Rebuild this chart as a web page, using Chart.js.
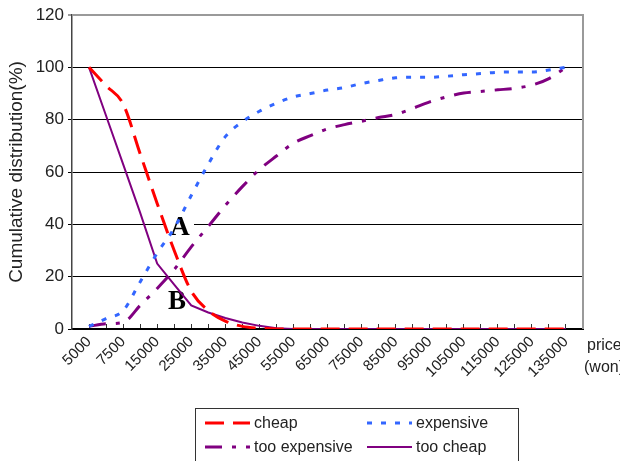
<!DOCTYPE html>
<html>
<head>
<meta charset="utf-8">
<script src="https://cdn.jsdelivr.net/npm/chart.js@4.4.0/dist/chart.umd.min.js"></script>
<style>
  html, body { margin: 0; padding: 0; background: #fff; }
  #wrap { width: 620px; height: 461px; }
</style>
</head>
<body>
<div id="wrap"><canvas id="priceChart" width="620" height="461"></canvas></div>
<script>
// price points (won) - only every other one gets a label on the axis
const categories = ['5000', '6000', '7500', '10000', '15000', '20000', '25000', '30000', '35000', '40000',
  '45000', '50000', '55000', '60000', '65000', '70000', '75000', '80000', '85000', '90000',
  '95000', '100000', '105000', '110000', '115000', '120000', '125000', '130000', '135000'];

// cumulative distribution (%) per series
const cheap = [100, 93, 86, 67, 48, 30, 14.5, 7, 3, 1, 0.3, 0, 0, 0, 0, 0, 0, 0, 0, 0, 0, 0, 0, 0, 0, 0, 0, 0, 0];
const expensive = [1, 4, 7, 18, 29, 38.5, 51, 63, 73.5, 79.2, 83.2, 86.3, 88.7, 90, 91.3, 92.3, 93.8, 95, 96,
  96.2, 96.2, 96.6, 97.2, 97.6, 98.1, 98.2, 98.2, 99, 100];
const tooExpensive = [1, 2, 2.5, 9, 15.5, 22.7, 31.4, 39.2, 47.2, 54.4, 60.9, 66.1, 71, 73.9, 76.5, 78.1, 79.4,
  80.8, 82, 84.3, 86.8, 88.7, 90.2, 90.8, 91.4, 92, 93.2, 95.7, 100];
const tooCheap = [100, 81.5, 63, 44.5, 25, 17, 9, 6.3, 4.2, 2.5, 1.2, 0.3, 0, 0, 0, 0, 0, 0, 0, 0, 0, 0, 0, 0, 0, 0, 0, 0, 0];

// intersection markers
const markers = [{ text: 'A', x: 5.34, y: 38.8 }, { text: 'B', x: 5.16, y: 10.8 }];

const FONT = "'Liberation Sans', Arial, sans-serif";

const toPoints = arr => arr.map((v, i) => ({ x: i, y: v }));

// extra drawing: A/B labels, frame, "price (won)" and the boxed legend
const extras = {
  id: 'extras',
  beforeDatasetsDraw(chart) {
    const { ctx, scales: { x, y } } = chart;
    ctx.save();
    ctx.font = "bold 27px 'Liberation Serif', 'Times New Roman', serif";
    ctx.textAlign = 'center';
    ctx.textBaseline = 'middle';
    markers.forEach(m => {
      const px = x.getPixelForValue(m.x);
      const py = y.getPixelForValue(m.y);
      ctx.fillStyle = '#fff';
      ctx.fillRect(px - 14, py - 13, 28, 26);
      ctx.fillStyle = '#000';
      ctx.fillText(m.text, px, py + 1);
    });
    ctx.restore();
  },
  afterDraw(chart) {
    const { ctx, chartArea } = chart;
    ctx.save();
    // top and right frame
    ctx.strokeStyle = '#9a9a9a';
    ctx.lineWidth = 2;
    ctx.beginPath();
    ctx.moveTo(chartArea.left, chartArea.top);
    ctx.lineTo(chartArea.right, chartArea.top);
    ctx.lineTo(chartArea.right, chartArea.bottom);
    ctx.stroke();

    ctx.fillStyle = '#222';
    ctx.font = '16px ' + FONT;
    ctx.textAlign = 'left';
    ctx.textBaseline = 'middle';
    ctx.fillText('price', 587, 346);
    ctx.fillText('(won)', 584, 368);

    // legend
    ctx.strokeStyle = '#333';
    ctx.lineWidth = 1;
    ctx.strokeRect(195.5, 408.5, 323, 80);
    const slots = [[205, 423], [367, 423], [205, 447], [367, 447]];
    chart.data.datasets.forEach((ds, i) => {
      const [lx, ly] = slots[i];
      ctx.save();
      ctx.strokeStyle = ds.borderColor;
      ctx.lineWidth = ds.borderWidth;
      ctx.setLineDash(ds.borderDash || []);
      ctx.beginPath();
      ctx.moveTo(lx, ly);
      ctx.lineTo(lx + 45, ly);
      ctx.stroke();
      ctx.restore();
      ctx.fillText(ds.label, lx + 49, ly + 1);
    });
    ctx.restore();
  }
};

const ctx = document.getElementById('priceChart').getContext('2d');
new Chart(ctx, {
  type: 'line',
  data: {
    datasets: [
      {
        label: 'cheap',
        data: toPoints(cheap),
        borderColor: '#ff0000',
        borderWidth: 3,
        borderDash: [19, 9],
        cubicInterpolationMode: 'monotone'
      },
      {
        label: 'expensive',
        data: toPoints(expensive),
        borderColor: '#3366ff',
        borderWidth: 3,
        borderDash: [5, 9],
        cubicInterpolationMode: 'monotone'
      },
      {
        label: 'too expensive',
        data: toPoints(tooExpensive),
        borderColor: '#800080',
        borderWidth: 3,
        borderDash: [17, 10, 4, 10],
        cubicInterpolationMode: 'monotone'
      },
      {
        label: 'too cheap',
        data: toPoints(tooCheap),
        borderColor: '#800080',
        borderWidth: 2,
        tension: 0
      }
    ]
  },
  options: {
    responsive: false,
    animation: false,
    devicePixelRatio: 1,
    layout: { padding: { top: 15, right: 37, left: 0, bottom: 0 } },
    elements: { point: { radius: 0, hoverRadius: 0 } },
    plugins: {
      legend: { display: false },
      tooltip: { enabled: false }
    },
    scales: {
      x: {
        type: 'linear',
        min: -1,
        max: categories.length,
        afterBuildTicks: s => {
          s.ticks = s.ticks.filter(t => t.value >= 0 && t.value < categories.length);
        },
        afterFit: s => { s.height = 132; },
        ticks: {
          stepSize: 1,
          autoSkip: false,
          minRotation: 45,
          maxRotation: 45,
          padding: 9,
          color: '#222',
          font: { family: FONT, size: 15 },
          callback: v => (v % 2 === 0 ? categories[v] : '')
        },
        grid: { drawOnChartArea: false, tickLength: -5, color: '#333', lineWidth: 1 },
        border: { color: '#000', width: 2 }
      },
      y: {
        min: 0,
        max: 120,
        afterFit: s => { s.width = 72; },
        ticks: {
          stepSize: 20,
          padding: 4,
          color: '#222',
          font: { family: FONT, size: 17 }
        },
        grid: {
          color: c => (c.tick && c.tick.value === 120 ? '#9a9a9a' : '#000'),
          lineWidth: c => (c.tick && c.tick.value === 120 ? 2 : 1),
          tickLength: 4
        },
        border: { color: '#444', width: 1.5 },
        title: {
          display: true,
          text: 'Cumulative distribution(%)',
          color: '#222',
          font: { family: FONT, size: 19 },
          padding: { top: 5, bottom: 0 }
        }
      }
    }
  },
  plugins: [extras]
});
</script>
</body>
</html>
